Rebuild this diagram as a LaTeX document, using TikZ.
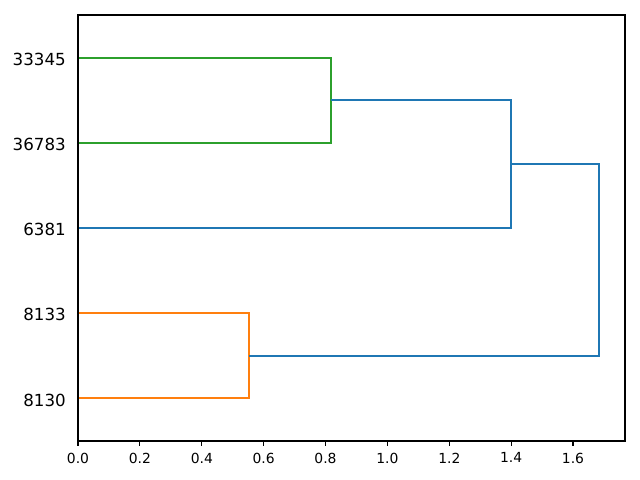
\documentclass[tikz,border=0pt]{standalone}
\usepackage{fontspec}
\setmainfont{DejaVu Sans}
\usetikzlibrary{positioning}
\definecolor{mplblue}{HTML}{1F77B4}
\definecolor{mplorange}{HTML}{FF7F0E}
\definecolor{mplgreen}{HTML}{2CA02C}
\tikzset{
  link/.style={line width=1.5bp},
  leaflabel/.style={anchor=east, inner sep=0pt, font=\fontsize{12bp}{14bp}\selectfont},
  ticklabel/.style={anchor=north, inner sep=0pt, font=\fontsize{10bp}{12bp}\selectfont},
}

\begin{document}
\begin{tikzpicture}[x=0.72bp, y=-0.72bp]
			%%%%% START %%%%%
			\useasboundingbox (0,0) rectangle (640,480);
			
			% leaves
			\coordinate (l33345) at (78, 57.6);
			\coordinate (l36783) at (78, 142.8);
			\coordinate (l6381) at (78, 228);
			\coordinate (l8133) at (78, 313.2);
			\coordinate (l8130) at (78, 398.4);
			
			% merges
			\coordinate (mgreen) at (331, 100.2);
			\coordinate (mupper) at (511, 164.1);
			\coordinate (morange) at (249, 355.8);
			\coordinate (mroot) at (599, 260);
			
			\node[leaflabel] (t33345) at (66, 59.3) {33345};
			\node[leaflabel] (t36783) at (66, 144.5) {36783};
			\node[leaflabel] (t6381) at (66, 229.7) {6381};
			\node[leaflabel] (t8133) at (66, 314.9) {8133};
			\node[leaflabel] (t8130) at (66, 400.1) {8130};
			
			\draw[link, color=mplgreen] (l33345) -| (l36783 -| mgreen) -- (l36783);
			\draw[link, color=mplorange] (l8133) -| (l8130 -| morange) -- (l8130);
			\draw[link, color=mplblue] (mgreen) -| (l6381 -| mupper) -- (l6381);
			\draw[link, color=mplblue] (mupper) -| (morange -| mroot) -- (morange);
			
			% frame and ticks
			\draw[line width=0.8bp] (78, 15) rectangle (625, 441);
			\foreach \px/\lab in {78/0.0, 139.9/0.2, 201.8/0.4, 263.6/0.6, 325.5/0.8, 387.4/1.0, 449.3/1.2, 511.1/1.4, 573/1.6}{
				\draw[line width=0.8bp] (\px, 441) -- (\px, 445.9);
				\node[ticklabel] at (\px, 452.5) {\lab};
			}
			%%%%% END %%%%%
\end{tikzpicture}
\end{document}
